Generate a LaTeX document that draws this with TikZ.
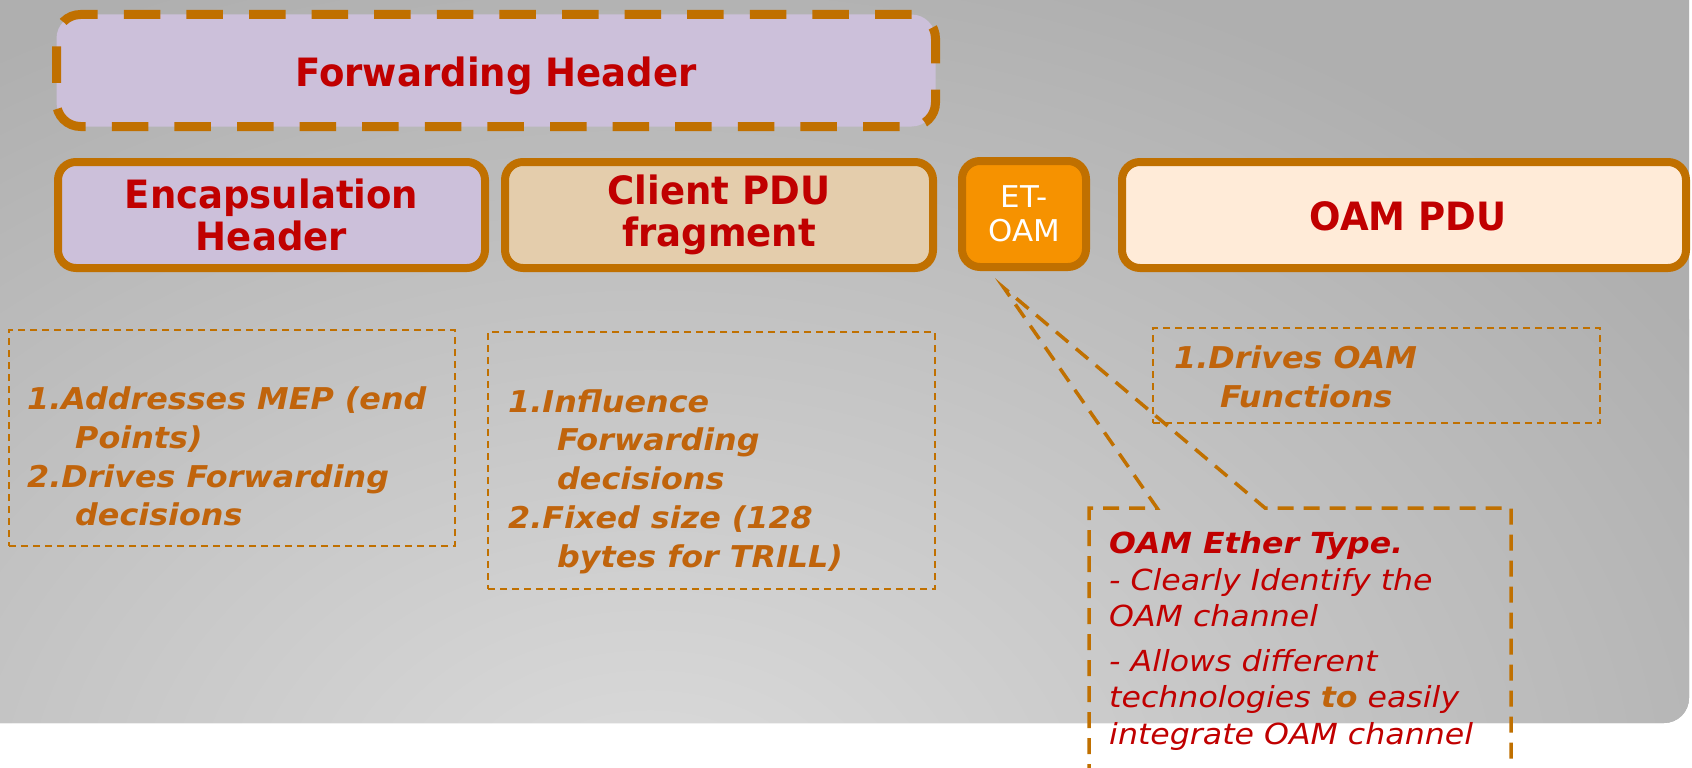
\documentclass[tikz,border=0pt]{standalone}
\usepackage{fontspec}
\setmainfont{DejaVu Sans}
\newfontfamily\hdrfont{DejaVu Sans}[FakeStretch=0.95]
\newfontfamily\etfont{DejaVu Sans}[FakeStretch=1.03]
\newfontfamily\listfont{DejaVu Sans}[FakeStretch=1.06]
\newfontfamily\notefont{DejaVu Sans}[FakeStretch=1.09]
\usetikzlibrary{calc}
\definecolor{bggray}{RGB}{175,175,175}
\definecolor{bglight}{RGB}{220,220,220}
\definecolor{brd}{RGB}{192,112,0}
\definecolor{lav}{RGB}{204,192,218}
\definecolor{tan}{RGB}{228,205,172}
\definecolor{etorange}{RGB}{246,146,0}
\definecolor{peach}{RGB}{255,235,216}
\definecolor{dred}{RGB}{192,0,0}
\definecolor{ltext}{RGB}{192,100,12}
\tikzset{
  hdrbox/.style={draw=brd, line width=8pt, rounded corners=18pt, inner sep=0pt},
  bigtxt/.style={text=dred, font=\hdrfont\bfseries\fontsize{39}{42}\selectfont, align=center},
  notebox/.style={draw=brd, line width=2pt, dash pattern=on 7pt off 5pt, inner sep=0pt},
  listtxt/.style={text=ltext, font=\listfont\bfseries\itshape\fontsize{30}{38.7}\selectfont, align=left, inner sep=0pt, anchor=west},
  calloutline/.style={draw=brd, line width=3.5pt, dash pattern=on 16pt off 10pt}
}
\begin{document}
\begin{tikzpicture}[x=1pt,y=-1pt]
\clip (0,0) rectangle (1692,768);
\fill[white] (0,0) rectangle (1692,768);
% background panel
\path[fill=bggray] (0,0) -- (1689,0) -- (1689,698) arc[start angle=0,end angle=90,radius=25] -- (0,723) -- cycle;
\begin{scope}
  \clip (0,0) -- (1689,0) -- (1689,698) arc[start angle=0,end angle=90,radius=25] -- (0,723) -- cycle;
  \shade[inner color=bglight, outer color=bggray] (650,820) ellipse[x radius=1250, y radius=900];
\end{scope}

% forwarding header
\node[draw=brd, fill=lav, line width=9pt, dash pattern=on 36.5pt off 26.1pt, rounded corners=24pt,
      minimum width=879pt, minimum height=112pt, inner sep=0pt, bigtxt, text height=33pt, text depth=0pt] (fh) at (496,70.5) {Forwarding Header};

% header row
\node[hdrbox, fill=lav, minimum width=427pt, minimum height=106pt, bigtxt] (enc) at (271.5,215) {Encapsulation\\Header};
\node[hdrbox, fill=tan, minimum width=428pt, minimum height=106pt, bigtxt] (cli) at (719,215) {Client PDU\\fragment};
\node[hdrbox, fill=etorange, minimum width=124pt, minimum height=106pt, text=white,
      font=\etfont\fontsize{30}{34}\selectfont, align=center] (et) at (1024,214) {ET-\\OAM};
\node[hdrbox, fill=peach, minimum width=564pt, minimum height=106pt] (oam) at (1404,215) {};
\node[bigtxt, inner sep=0pt] (oamt) at (1408,216) {OAM PDU};

% note boxes
\node[notebox, minimum width=446pt, minimum height=216pt] (n1) at (232,438) {};
\node[listtxt] (t1) at (27,456.5) {1.Addresses MEP (end\\\hspace*{48pt}Points)\\2.Drives Forwarding\\\hspace*{48pt}decisions};

\node[notebox, minimum width=447pt, minimum height=257pt] (n2) at (711.5,460.5) {};
\node[listtxt] (t2) at (508,481.5) {1.Influence\\\hspace*{49pt}Forwarding\\\hspace*{49pt}decisions\\2.Fixed size (128\\\hspace*{49pt}bytes for TRILL)};

\node[notebox, minimum width=447pt, minimum height=95pt] (n3) at (1376.5,375.5) {};
\node[listtxt] (t3) at (1174,376.5) {1.Drives OAM\\\hspace*{46pt}Functions};

% callout
\coordinate (tip) at ($(et.south)+(-20,17)$);
\coordinate (cl) at (1089,780);
\coordinate (cr) at (1511,780);
\draw[calloutline] (cl) -- (1089,508) -- (1157,508) -- (tip) -- (1265,508) -- (1511,508) -- (cr);
\node[text=dred, font=\notefont\itshape\fontsize{29}{36.5}\selectfont, align=left, inner sep=0pt, anchor=west] (ct) at (1109,641)
  {\textbf{OAM Ether Type.}\\- Clearly Identify the\\OAM channel\\[8pt]- Allows different\\technologies \textcolor{ltext}{\textbf{to}} easily\\integrate OAM channel};
\end{tikzpicture}
\end{document}
